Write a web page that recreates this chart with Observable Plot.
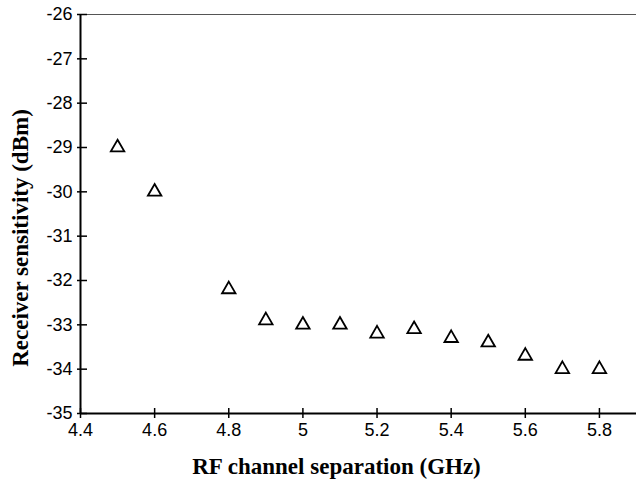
<!DOCTYPE html>
<html><head><meta charset="utf-8">
<script src="https://cdn.jsdelivr.net/npm/d3@7"></script>
<script src="https://cdn.jsdelivr.net/npm/@observablehq/plot@0.6"></script>
<style>body{margin:0;background:#fff}</style></head>
<body><div id="chart"></div>
<script>
const separation = [4.5, 4.6, 4.8, 4.9, 5.0, 5.1, 5.2, 5.3, 5.4, 5.5, 5.6, 5.7, 5.8];
const sensitivity = [-29, -30, -32.2, -32.9, -33, -33, -33.2, -33.1, -33.3, -33.4, -33.7, -34, -34];
const xTicks = [4.4, 4.6, 4.8, 5, 5.2, 5.4, 5.6, 5.8];
const yTicks = [-35, -34, -33, -32, -31, -30, -29, -28, -27, -26];
const xLabel = "RF channel separation (GHz)";
const yLabel = "Receiver sensitivity (dBm)";

const data = separation.map((x, i) => ({x, y: sensitivity[i]}));

const serif = "'Liberation Serif', 'Times New Roman', serif";
const chart = Plot.plot({
  width: 636, height: 481,
  marginLeft: 80, marginRight: 0, marginTop: 14, marginBottom: 68,
  x: {domain: [4.4, 5.9]},
  y: {domain: [-35, -26]},
  style: {fontFamily: "'Liberation Sans', Arial, sans-serif", fontSize: "18px", color: "#000", background: "#fff"},
  marks: [
    Plot.ruleY([-26], {stroke: "#555", strokeWidth: 1}),
    Plot.ruleX([4.4], {stroke: "#000", strokeWidth: 2}),
    Plot.ruleY([-35], {stroke: "#000", strokeWidth: 2}),
    Plot.axisX({ticks: xTicks, tickSize: 5, tickPadding: 5, label: null, tickFormat: d => String(d), strokeWidth: 1.5}),
    Plot.axisX({ticks: xTicks, tickSize: -5, label: null, tickFormat: () => "", strokeWidth: 1.5}),
    Plot.axisY({ticks: yTicks, tickSize: 3, tickPadding: 5, label: null, tickFormat: d => String(d), strokeWidth: 1.5}),
    Plot.axisY({ticks: yTicks, tickSize: -7, label: null, tickFormat: () => "", strokeWidth: 1.5}),
    Plot.dot(data, {x: "x", y: "y", symbol: "triangle", r: 5, stroke: "#000", strokeWidth: 1.8, fill: "none"}),
    Plot.text([xLabel], {frameAnchor: "bottom", dy: 53, lineAnchor: "middle", textAnchor: "middle", dx: -22, fontFamily: serif, fontWeight: "bold", fontSize: 23, fill: "#000"}),
    Plot.text([yLabel], {frameAnchor: "left", dx: -60, dy: 24, rotate: -90, textAnchor: "middle", lineAnchor: "middle", fontFamily: serif, fontWeight: "bold", fontSize: 23, fill: "#000"})
  ]
});
document.getElementById("chart").append(chart);
</script>
</body></html>
